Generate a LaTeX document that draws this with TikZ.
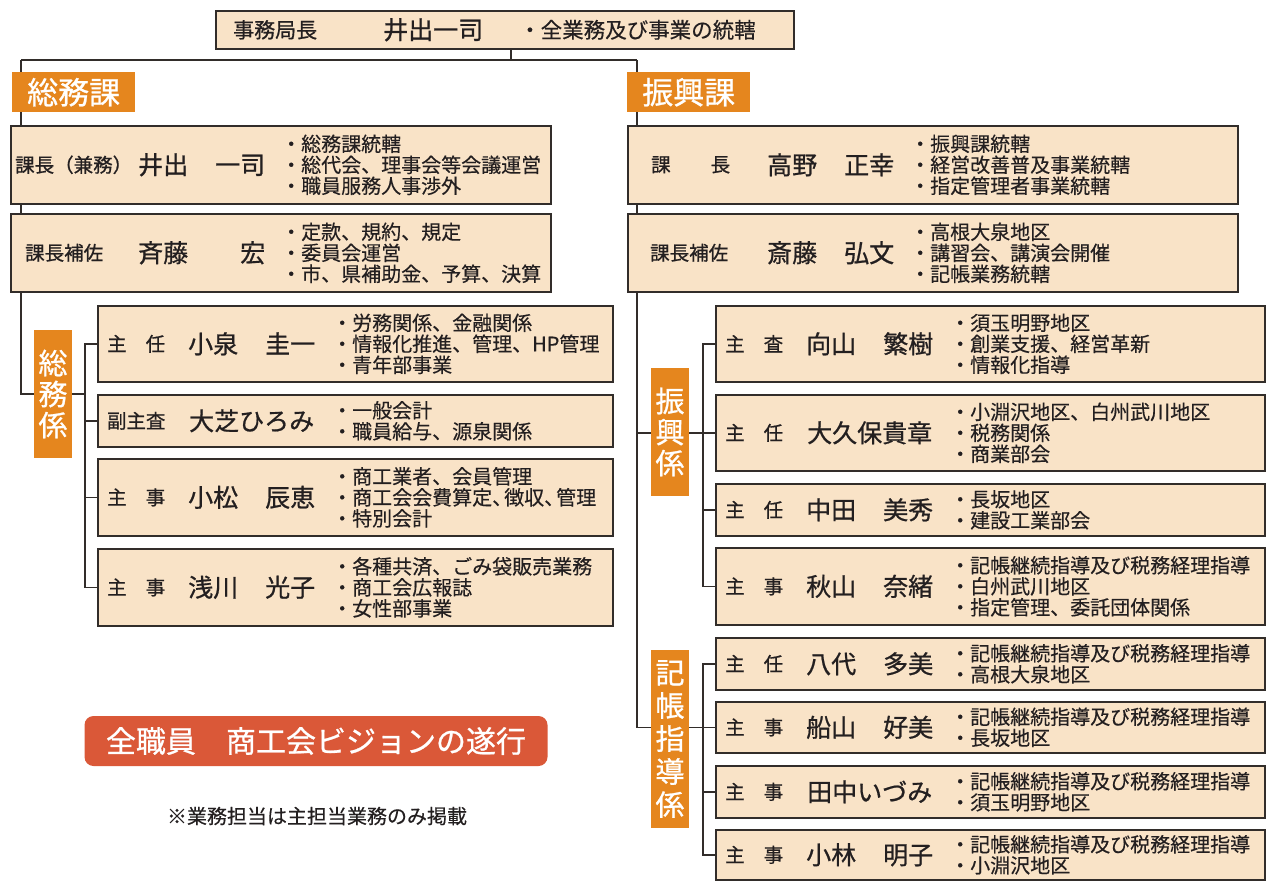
\documentclass[tikz,border=0pt]{standalone}
\usepackage{fontspec}
\setmainfont{Noto Sans CJK JP}
\newfontfamily\medfont[FakeBold=0.8]{Noto Sans CJK JP}
\newfontfamily\dutyfont[FakeBold=0.3]{Noto Sans CJK JP}
\usetikzlibrary{backgrounds}
\definecolor{boxfill}{RGB}{249,227,199}
\definecolor{boxline}{RGB}{50,45,42}
\definecolor{inkcolor}{RGB}{35,31,32}
\definecolor{kaorange}{RGB}{229,134,30}
\definecolor{visionred}{RGB}{218,88,56}
\tikzset{
  staffbox/.style={draw=boxline, fill=boxfill, line width=1.6pt, anchor=north west, inner sep=0pt},
  kalabel/.style={fill=kaorange, text=white, anchor=north west, inner sep=0pt,
    minimum width=123, minimum height=40, font=\medfont\fontsize{31}{31}\selectfont},
  kakari/.style={fill=kaorange, text=white, inner sep=0pt, align=center, minimum width=38},
  post/.style={anchor=west, inner sep=0pt, text=inkcolor, font=\medfont\fontsize{19.5}{19.5}\selectfont},
  who/.style={anchor=west, inner sep=0pt, text=inkcolor, font=\medfont\fontsize{25}{25}\selectfont},
  duty/.style={anchor=west, inner sep=0pt, align=left, text=inkcolor, font=\dutyfont\fontsize{20}{21}\selectfont},
  link/.style={draw=boxline, line width=1.4pt}
}
\begin{document}
\begin{tikzpicture}[x=1pt, y=-1pt]
   \useasboundingbox (0,0) rectangle (1266,881);
   \node[staffbox, minimum width=578, minimum height=38] (kyokucho) at (215,10) {};
   \node[post, font=\medfont\fontsize{21}{21}\selectfont] (kyokucho-p) at ([xshift=18]kyokucho.west) {事務局長};
   \node[who] (kyokucho-n) at ([xshift=168]kyokucho.west) {井出一司};
   \node[duty, font=\dutyfont\fontsize{21.5}{21.5}\selectfont] (kyokucho-d) at ([xshift=304]kyokucho.west) {・全業務及び事業の統轄};
   \node[kalabel] (somuka) at (12,72) {総務課};
   \node[kalabel] (shinkoka) at (627,72) {振興課};
   \begin{scope}
      \def \Heads {
         kacho/10/125/540/5/128/271/課長（兼務）/井出\hfill 一司/・総務課統轄\\・総代会、理事会等会議運営\\・職員服務人事渉外,
         hosa/10/213/540/15/128/271/課長補佐/斉藤\hfill 宏/・定款、規約、規定\\・委員会運営\\・市、県補助金、予算、決算,
         skacho/627/125/610/24/140/283/\makebox[79pt]{課\hfill 長}/高野\hfill 正幸/・振興課統轄\\・経営改善普及事業統轄\\・指定管理者事業統轄,
         shosa/627/213/610/23/140/283/課長補佐/斎藤\hfill 弘文/・高根大泉地区\\・講習会、講演会開催\\・記帳業務統轄}
      \foreach \id / \xx / \yy / \ww / \px / \nx / \dx / \post / \who / \duty in \Heads {
         \node[staffbox, minimum width=\ww, minimum height=78] (\id) at (\xx, \yy) {};
         \node[post] (\id-p) at ([xshift=\px]\id.west) {\post};
         \node[who] (\id-n) at ([xshift=\nx]\id.west) {\makebox[127pt]{\who}};
         \node[duty] (\id-d) at ([xshift=\dx]\id.west) {\duty};
      }
   \end{scope}
   \begin{scope}
      \def \Staff {
         sa/97/305/515/76/主\hfill 任/小泉\hfill 圭一/・労務関係、金融関係\\・情報化推進、管理、HP管理\\・青年部事業,
         sb/97/394/515/52/副主査/大芝ひろみ/・一般会計\\・職員給与、源泉関係,
         sc/97/458/515/77/主\hfill 事/小松\hfill 辰恵/・商工業者、会員管理\\・商工会会費算定、\kern-8pt 徴収、\kern-8pt 管理\\・特別会計,
         sd/97/548/515/77/主\hfill 事/浅川\hfill 光子/・各種共済、ごみ袋販売業務\\・商工会広報誌\\・女性部事業,
         ta/715/305/549/76/主\hfill 査/向山\hfill 繁樹/・須玉明野地区\\・創業支援、経営革新\\・情報化指導,
         tb/715/394/549/76/主\hfill 任/大久保貴章/・小淵沢地区、白州武川地区\\・税務関係\\・商業部会,
         tc/715/483/549/52/主\hfill 任/中田\hfill 美秀/・長坂地区\\・建設工業部会,
         td/715/547/549/77/主\hfill 事/秋山\hfill 奈緒/・記帳継続指導及び税務経理指導\\・白州武川地区\\・指定管理、委託団体関係,
         ka/715/637/549/52/主\hfill 任/八代\hfill 多美/・記帳継続指導及び税務経理指導\\・高根大泉地区,
         kb/715/701/549/51/主\hfill 事/船山\hfill 好美/・記帳継続指導及び税務経理指導\\・長坂地区,
         kc/715/765/549/52/主\hfill 事/田中いづみ/・記帳継続指導及び税務経理指導\\・須玉明野地区,
         kd/715/829/549/50/主\hfill 事/小林\hfill 明子/・記帳継続指導及び税務経理指導\\・小淵沢地区}
      \foreach \id / \xx / \yy / \ww / \hh / \post / \who / \duty in \Staff {
         \node[staffbox, minimum width=\ww, minimum height=\hh] (\id) at (\xx, \yy) {};
         \node[post] (\id-p) at ([xshift=10]\id.west) {\makebox[58pt]{\post}};
         \node[who] (\id-n) at ([xshift=91]\id.west) {\makebox[127pt]{\who}};
         \node[duty] (\id-d) at ([xshift=235]\id.west) {\duty};
      }
   \end{scope}
   \node[kakari, minimum height=128, font=\medfont\fontsize{29}{31}\selectfont] (somukakari) at (53,394) {総\\務\\係};
   \node[kakari, minimum height=128, font=\medfont\fontsize{29}{31}\selectfont] (shinkokakari) at (670,432) {振\\興\\係};
   \node[kakari, minimum height=178, font=\medfont\fontsize{29}{33}\selectfont] (kichokakari) at (670,739) {記\\帳\\指\\導\\係};
   \node[fill=visionred, text=white, rounded corners=9, minimum width=463, minimum height=50,
      inner sep=0pt, font=\medfont\fontsize{30}{30}\selectfont] (vision) at (316,741) {全職員　商工会ビジョンの遂行};
   \node[text=inkcolor, inner sep=0pt, font=\dutyfont\fontsize{20}{20}\selectfont] (note) at (317,816) {※業務担当は主担当業務のみ掲載};
   \coordinate (jl) at (21,60);
   \coordinate (jr) at (637,60);
   \begin{scope}[on background layer]
      \path[link] ([xshift=6]kyokucho.south) |- (jl);
      \path[link] ([xshift=6]kyokucho.south) |- (jr);
      \path[link] (jl) |- (somukakari.west);
      \path[link] (jr) |- (shinkokakari.west |- tb.west);
      \path[link] (jr) |- (kichokakari.west |- kb.west);
      \path[link] (somukakari.east) -- ++(13,0);
      \path[link] (shinkokakari.east |- tb.west) -- (tb.west);
      \path[link] (kichokakari.east |- kb.west) -- (kb.west);
      \path[link] (sa.west) -- ++(-12,0) |- (sd.west);
      \path[link] (ta.west) -- ++(-12,0) |- (td.west);
      \path[link] (ka.west) -- ++(-12,0) |- (kd.west);
      \foreach \u in {sb, sc, tc, kc} {
         \path[link] (\u.west) -- ++(-12,0);
      }
   \end{scope}
\end{tikzpicture}
\end{document}
